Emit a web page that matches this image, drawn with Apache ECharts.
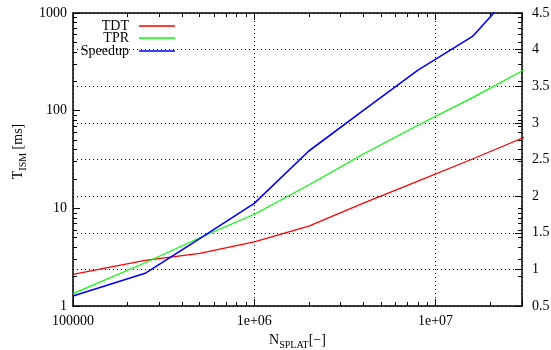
<!DOCTYPE html>
<html>
<head>
<meta charset="utf-8">
<script src="https://cdn.jsdelivr.net/npm/echarts@6/dist/echarts.min.js"></script>
<style>
  html, body { margin: 0; padding: 0; background: #fff; }
  #chart { width: 551px; height: 350px; }
</style>
</head>
<body>
<div id="chart"></div>
<script>
// N_SPLAT sample positions
const nSplat = [1e5, 2.5e5, 5e5, 1e6, 2e6, 4e6, 8e6, 1.6e7, 3.2e7];
// timings in ms (left log axis)
const tdt = [2.11, 2.93, 3.46, 4.54, 6.58, 11.3, 19.0, 32.0, 55.0];
const tpr = [1.34, 2.77, 5.0, 8.7, 17.3, 36, 71, 136, 272];
// speedup (right axis)
const speedup = [0.636, 0.946, 1.42, 1.90, 2.616, 3.17, 3.72, 4.18, 5.0];

const xTickLabels = ['100000', '1e+06', '1e+07'];
const yTickLabels = ['1', '10', '100', '1000'];
const y2TickLabels = ['0.5', '1', '1.5', '2', '2.5', '3', '3.5', '4', '4.5'];
const minorMult = [2, 3, 4, 5, 6, 7, 8, 9];

const X_MIN = 1e5, X_MAX = 3e7;
const serif = 'Liberation Serif';

// minor tick positions in log10 space
function minorTicks(e0, e1, maxVal) {
  const out = [];
  for (let e = e0; e < e1; e++) {
    minorMult.forEach(function (m) {
      const v = m * Math.pow(10, e);
      if (v < maxVal) out.push(Math.log10(v));
    });
  }
  return out;
}
const xMinor = minorTicks(5, 8, X_MAX);
const yMinor = minorTicks(0, 3, 1000);

const pairs = (ys) => nSplat.map((x, i) => [x, ys[i]]);

const dotted = { color: '#000', width: 1, type: [1, 3] };
const blackLine = { show: true, lineStyle: { color: '#000', width: 1.5 } };
const labelFont = { fontFamily: serif, fontSize: 14, color: '#000' };

function tickOnlyAxis(pos, min, max, values, len) {
  return {
    type: 'value', position: pos, min: min, max: max,
    axisLine: { show: false },
    axisLabel: { show: false },
    splitLine: { show: false },
    axisTick: { show: true, inside: true, length: len, customValues: values,
      lineStyle: { color: '#000', width: 1 } }
  };
}

const myChart = echarts.init(document.getElementById('chart'), null, { renderer: 'canvas' });

const legendBase = {
  orient: 'vertical', right: 376, padding: 0, align: 'right',
  icon: 'rect', itemWidth: 36, itemHeight: 1.5,
  textStyle: { fontFamily: serif, fontSize: 14, color: '#000', lineHeight: 12, padding: [0, 5, 0, 0] }
};

const option = {
  animation: false,
  backgroundColor: '#fff',
  grid: { left: 73, right: 29, top: 13, bottom: 44, containLabel: false, outerBoundsMode: 'none' },
  legend: [
    Object.assign({}, legendBase, { top: 19, data: ['TDT'] }),
    Object.assign({}, legendBase, { top: 31, data: ['TPR'] }),
    Object.assign({}, legendBase, { top: 44, data: ['Speedup'] })
  ],
  xAxis: [
    {
      type: 'log', logBase: 10, min: X_MIN, max: X_MAX, position: 'bottom',
      name: '{a|N}{b|SPLAT}{a|[−]}', nameLocation: 'middle', nameGap: 22,
      nameTextStyle: {
        rich: {
          a: { fontFamily: serif, fontSize: 14, color: '#000', lineHeight: 14, verticalAlign: 'top' },
          b: { fontFamily: serif, fontSize: 10, color: '#000', lineHeight: 10, padding: [7, 0, 0, 0], verticalAlign: 'top' }
        }
      },
      axisLine: blackLine,
      axisTick: { show: true, inside: true, length: 7, lineStyle: { color: '#000' } },
      axisLabel: Object.assign({}, labelFont, {
        margin: 8,
        formatter: function (v) {
          const e = Math.round(Math.log10(v));
          if (Math.abs(Math.log10(v) - e) > 1e-6) return '';
          return xTickLabels[e - 5] || '';
        }
      }),
      splitLine: { show: true, lineStyle: dotted }
    },
    tickOnlyAxis('bottom', 5, Math.log10(X_MAX), xMinor, 4),
    {
      type: 'log', logBase: 10, min: X_MIN, max: X_MAX, position: 'top',
      axisLine: blackLine,
      axisTick: { show: true, inside: true, length: 7, lineStyle: { color: '#000' } },
      axisLabel: { show: false },
      splitLine: { show: false }
    },
    tickOnlyAxis('top', 5, Math.log10(X_MAX), xMinor, 4)
  ],
  yAxis: [
    {
      type: 'log', logBase: 10, min: 1, max: 1000, position: 'left',
      name: '{a|T}{b|ISM}{a| [ms]}', nameLocation: 'middle', nameRotate: 90, nameGap: 47,
      nameTextStyle: {
        padding: [0, 0, 0, 16],
        rich: {
          a: { fontFamily: serif, fontSize: 14, color: '#000', lineHeight: 14, verticalAlign: 'top' },
          b: { fontFamily: serif, fontSize: 10, color: '#000', lineHeight: 10, padding: [7, 0, 0, 0], verticalAlign: 'top' }
        }
      },
      axisLine: blackLine,
      axisTick: { show: true, inside: true, length: 7, lineStyle: { color: '#000' } },
      axisLabel: Object.assign({}, labelFont, {
        margin: 6,
        formatter: function (v) {
          const e = Math.round(Math.log10(v));
          return yTickLabels[e] || '';
        }
      }),
      splitLine: { show: false }
    },
    {
      type: 'value', min: 0.5, max: 4.5, interval: 0.5, position: 'right',
      axisLine: blackLine,
      axisTick: { show: true, inside: true, length: 7, lineStyle: { color: '#000' } },
      axisLabel: Object.assign({}, labelFont, {
        margin: 10,
        formatter: function (v) { return y2TickLabels[Math.round((v - 0.5) / 0.5)] || ''; }
      }),
      splitLine: { show: true, lineStyle: dotted }
    },
    tickOnlyAxis('left', 0, 3, yMinor, 4),
    tickOnlyAxis('right', 0, 3, yMinor.concat([1, 2]), 4)
  ],
  series: [
    {
      name: 'TDT', type: 'line', xAxisIndex: 0, yAxisIndex: 0,
      data: pairs(tdt), symbol: 'none', clip: true,
      itemStyle: { color: '#ff0000' },
      lineStyle: { color: '#ff0000', width: 1.2 }
    },
    {
      name: 'TPR', type: 'line', xAxisIndex: 0, yAxisIndex: 0,
      data: pairs(tpr), symbol: 'none', clip: true,
      itemStyle: { color: '#00ff00' },
      lineStyle: { color: '#00ff00', width: 1.2 }
    },
    {
      name: 'Speedup', type: 'line', xAxisIndex: 0, yAxisIndex: 1,
      data: pairs(speedup), symbol: 'none', clip: true,
      itemStyle: { color: '#0000ff' },
      lineStyle: { color: '#0000ff', width: 1.6 }
    }
  ]
};
myChart.setOption(option);
</script>
</body>
</html>
